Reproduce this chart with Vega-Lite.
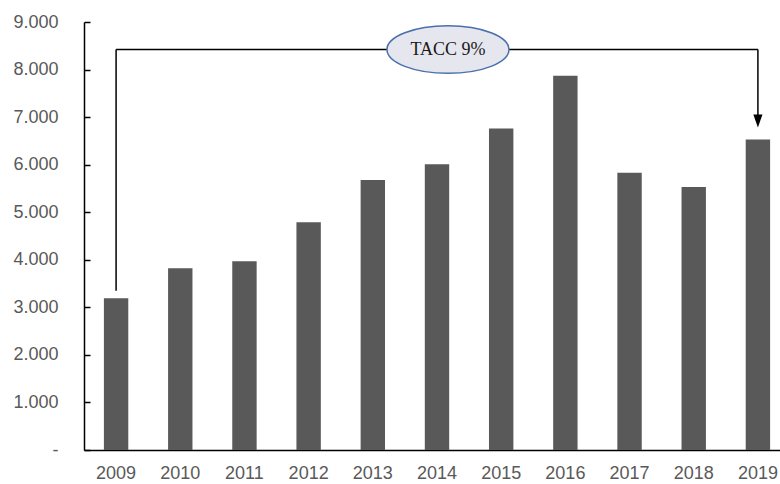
{
  "$schema": "https://vega.github.io/schema/vega-lite/v6.json",
  "width": 706,
  "height": 428,
  "autosize": {"type": "none"},
  "padding": {"left": 84, "top": 22, "right": 0, "bottom": 34},
  "background": "#ffffff",
  "config": {"view": {"stroke": null}},
  "datasets": {
    "bars": [
      {"year": "2009", "value": 3190},
      {"year": "2010", "value": 3820},
      {"year": "2011", "value": 3970},
      {"year": "2012", "value": 4790},
      {"year": "2013", "value": 5680},
      {"year": "2014", "value": 6010},
      {"year": "2015", "value": 6760},
      {"year": "2016", "value": 7870},
      {"year": "2017", "value": 5830},
      {"year": "2018", "value": 5530},
      {"year": "2019", "value": 6530}
    ],
    "vlines": [
      {"year": "2009", "from": 3350, "to": 8420},
      {"year": "2019", "from": 8420, "to": 6950}
    ],
    "hline": [
      {"start": "2009", "end": "2019", "level": 8420}
    ],
    "arrow": [
      {"year": "2019", "level": 6920}
    ],
    "label": [
      {"year": "2014", "level": 8420, "text": "TACC 9%"}
    ]
  },
  "layer": [
    {
      "data": {"name": "bars"},
      "mark": {"type": "bar", "color": "#595959"},
      "encoding": {
        "x": {
          "field": "year", "type": "ordinal",
          "scale": {"paddingInner": 0.62, "paddingOuter": 0.31},
          "axis": {
            "title": null, "ticks": false, "labelAngle": 0, "labelPadding": 14,
            "labelFont": "Liberation Sans", "labelFontSize": 18, "labelColor": "#595959",
            "domainColor": "#000000", "domainWidth": 1.5
          }
        },
        "y": {
          "field": "value", "type": "quantitative",
          "scale": {"domain": [0, 9000], "nice": false},
          "axis": {
            "title": null, "grid": false,
            "values": [0, 1000, 2000, 3000, 4000, 5000, 6000, 7000, 8000, 9000],
            "labelExpr": "datum.value == 0 ? '-\u00a0\u00a0' : replace(format(datum.value, ','), ',', '.')",
            "tickSize": -6, "tickWidth": 1.5, "tickColor": "#000000",
            "labelPadding": 32,
            "labelFont": "Liberation Sans", "labelFontSize": 18, "labelColor": "#595959",
            "domainColor": "#000000", "domainWidth": 1.5
          }
        }
      }
    },
    {
      "data": {"name": "vlines"},
      "mark": {"type": "rule", "color": "#000000", "strokeWidth": 1.5},
      "encoding": {
        "x": {"field": "year", "type": "ordinal"},
        "y": {"field": "from", "type": "quantitative"},
        "y2": {"field": "to"}
      }
    },
    {
      "data": {"name": "hline"},
      "mark": {"type": "rule", "color": "#000000", "strokeWidth": 1.5},
      "encoding": {
        "x": {"field": "start", "type": "ordinal"},
        "x2": {"field": "end"},
        "y": {"field": "level", "type": "quantitative"}
      }
    },
    {
      "data": {"name": "arrow"},
      "mark": {
        "type": "point", "filled": true, "color": "#000000", "opacity": 1,
        "shape": "M -0.7 -1 L 0.7 -1 L 0 1 Z", "size": 169
      },
      "encoding": {
        "x": {"field": "year", "type": "ordinal"},
        "y": {"field": "level", "type": "quantitative"}
      }
    },
    {
      "data": {"name": "label"},
      "mark": {
        "type": "point", "filled": false, "fill": "#e6e7ee", "fillOpacity": 1,
        "stroke": "#4a6fae", "strokeWidth": 1.5, "opacity": 1,
        "shape": "M -1 0 A 1 0.39 0 1 0 1 0 A 1 0.39 0 1 0 -1 0 Z", "size": 14884
      },
      "encoding": {
        "x": {"field": "year", "type": "ordinal", "bandPosition": 0.95},
        "y": {"field": "level", "type": "quantitative"}
      }
    },
    {
      "data": {"name": "label"},
      "mark": {
        "type": "text", "font": "Liberation Serif", "fontSize": 18,
        "color": "#1a1a1a", "align": "center", "baseline": "middle"
      },
      "encoding": {
        "x": {"field": "year", "type": "ordinal", "bandPosition": 0.95},
        "y": {"field": "level", "type": "quantitative"},
        "text": {"field": "text"}
      }
    }
  ]
}
